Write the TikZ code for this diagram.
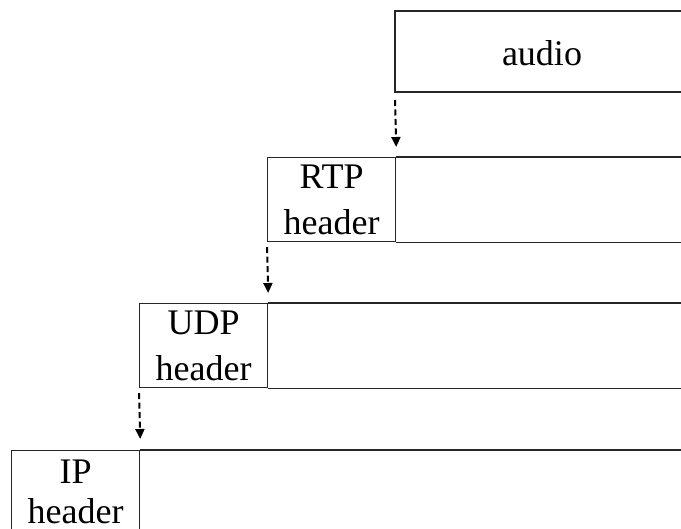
\documentclass[tikz,border=0pt]{standalone}
\usepackage{fontspec}
\setmainfont{Liberation Serif}
\usetikzlibrary{arrows.meta}
\begin{document}
\begin{tikzpicture}[x=1pt,y=-1pt,
  frame/.style={line width=1.2pt, draw=black!85},
  label text/.style={align=center, inner sep=0pt,
    font=\fontsize{36}{46}\selectfont},
  hdr/.style={frame, draw, anchor=north west, minimum width=128pt,
    minimum height=84pt, inner sep=0pt, label text},
  flow/.style={line width=2pt, dash pattern=on 6pt off 3.5pt,
    -{Triangle[length=10pt,width=9pt]}}]
\useasboundingbox (0,0) rectangle (681,529);
\clip (0,0) rectangle (681,529);

% audio payload, open to the right
\coordinate (audiotl) at (395,11);
\coordinate (audiobl) at (395,92);
\draw[frame] (700,11) -- (audiotl) -- (audiobl) -- (700,92);
\node[label text] (audio) at (542,53) {audio};

% protocol headers with their payload areas
\node[hdr] (rtph) at (267,157) {RTP\\header};
\node[hdr] (udph) at (139,303) {UDP\\header};
\node[hdr] (iph)  at (11,450)  {};
\node[label text, font=\fontsize{36}{40}\selectfont] (iptext)
  at ([yshift=1pt]iph.center) {IP\\header};

\foreach \h in {rtph,udph,iph}{
  \draw[frame] (\h.north east) -- ++(600,0);
  \draw[frame] (\h.south east) -- ++(600,0);
}

% encapsulation steps
\draw[flow] ([yshift=-8pt]audiobl) -- ([yshift=10pt]rtph.north east);
\draw[flow] ([yshift=-5pt]rtph.south west) -- ([yshift=10pt]udph.north east);
\draw[flow] ([yshift=-5pt]udph.south west) -- ([yshift=11pt]iph.north east);
\end{tikzpicture}
\end{document}
